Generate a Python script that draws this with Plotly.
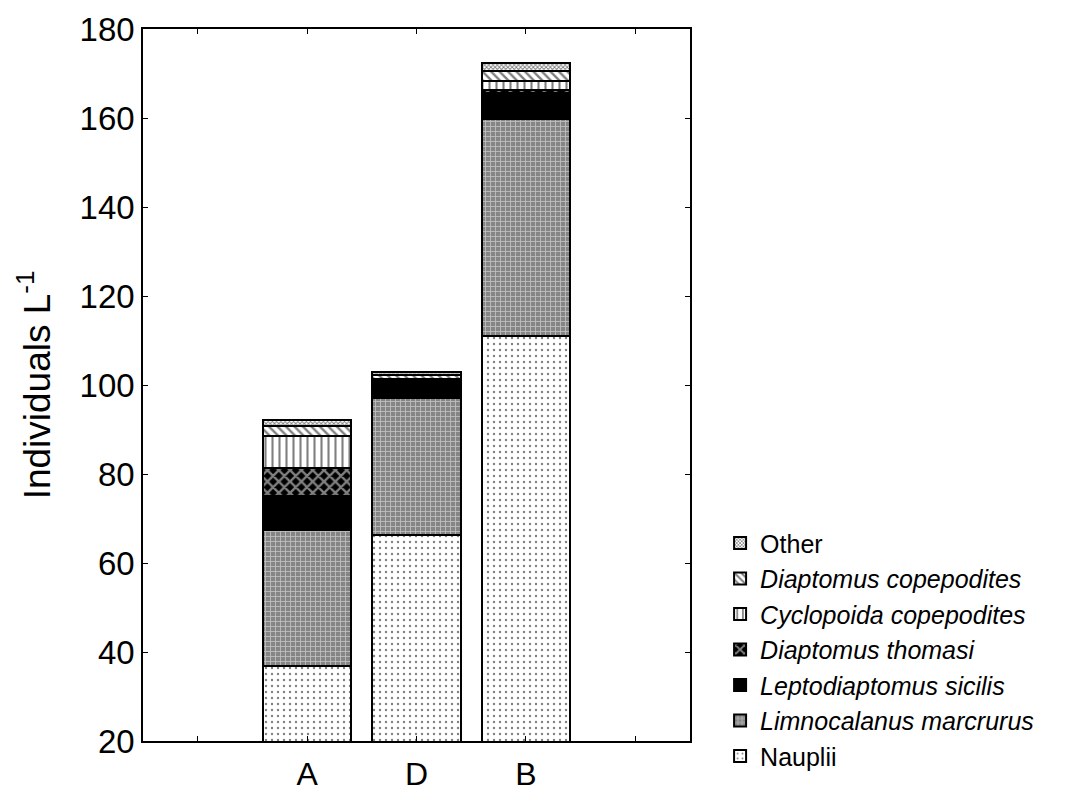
import plotly.graph_objects as go

# ---- data ----
sites = ["A", "D", "B"]
x_pos = [1, 2, 3]
tick_vals = [1, 2, 3]
tick_text = ["A", "D", "B"]
extra_tick_vals = [0, 4]

nauplii = [36.9, 66.2, 111.0]
limnocalanus = [30.5, 30.9, 48.7]
leptodiaptomus = [7.7, 3.3, 5.9]
diaptomus_thomasi = [6.2, 0.4, 0.8]
cyclopoida_cop = [7.2, 0.6, 2.0]
diaptomus_cop = [2.3, 0.9, 2.2]
other = [1.3, 0.7, 1.7]

series = [
    ("Nauplii", nauplii, dict(color="white", pattern=dict(shape=".", fgcolor="black", bgcolor="white", size=6, solidity=0.12))),
    ("<i>Limnocalanus marcrurus</i>", limnocalanus, dict(color="#888888", pattern=dict(shape="+", fgcolor="white", bgcolor="#858585", size=5, solidity=0.3))),
    ("<i>Leptodiaptomus sicilis</i>", leptodiaptomus, dict(color="black")),
    ("<i>Diaptomus thomasi</i>", diaptomus_thomasi, dict(color="black", pattern=dict(shape="x", fgcolor="white", bgcolor="black", size=8, solidity=0.5))),
    ("<i>Cyclopoida copepodites</i>", cyclopoida_cop, dict(color="white", pattern=dict(shape="|", fgcolor="black", bgcolor="white", size=7, solidity=0.3))),
    ("<i>Diaptomus copepodites</i>", diaptomus_cop, dict(color="white", pattern=dict(shape="\\", fgcolor="black", bgcolor="white", size=6, solidity=0.4))),
    ("Other", other, dict(color="#555555", pattern=dict(shape="x", fgcolor="black", bgcolor="white", size=3, solidity=0.5))),
]

fig = go.Figure()
for name, vals, mk in series:
    mk = dict(mk)
    mk["line"] = dict(color="black", width=2)
    fig.add_trace(go.Bar(x=x_pos, y=vals, name=name, width=0.81, marker=mk))

font_family = "Liberation Sans, Arial, sans-serif"
fig.update_layout(
    width=1078, height=791,
    barmode="stack",
    plot_bgcolor="white", paper_bgcolor="white",
    margin=dict(l=143, r=388, t=29, b=50),
    font=dict(family=font_family, color="black"),
    showlegend=True,
    legend=dict(
        x=1.055, y=0.31, xanchor="left", yanchor="top",
        traceorder="reversed",
        font=dict(family=font_family, size=25, color="black"),
        bgcolor="rgba(0,0,0,0)",
        tracegroupgap=0,
    ),
    xaxis=dict(
        range=[-0.5, 4.5], tickmode="array", tickvals=tick_vals, ticktext=tick_text,
        ticks="inside", ticklen=5, tickwidth=1, tickcolor="black",
        minor=dict(tickmode="array", tickvals=extra_tick_vals, ticks="inside", ticklen=5, tickwidth=1, tickcolor="black"),
        showline=True, linecolor="black", linewidth=1.5, mirror="ticks",
        showgrid=False, zeroline=False, automargin=False,
        ticklabelstandoff=4,
        tickfont=dict(size=32, family=font_family),
    ),
    yaxis=dict(
        range=[20, 180], dtick=20, tick0=20,
        ticks="inside", ticklen=5, tickwidth=1, tickcolor="black",
        showline=True, linecolor="black", linewidth=1.5, mirror="ticks",
        showgrid=False, zeroline=False, automargin=False,
        tickfont=dict(size=33, family=font_family),
        title=dict(text="Individuals L<sup>-1</sup>", font=dict(size=37, family=font_family), standoff=18),
    ),
)

fig.write_html("out.html")
